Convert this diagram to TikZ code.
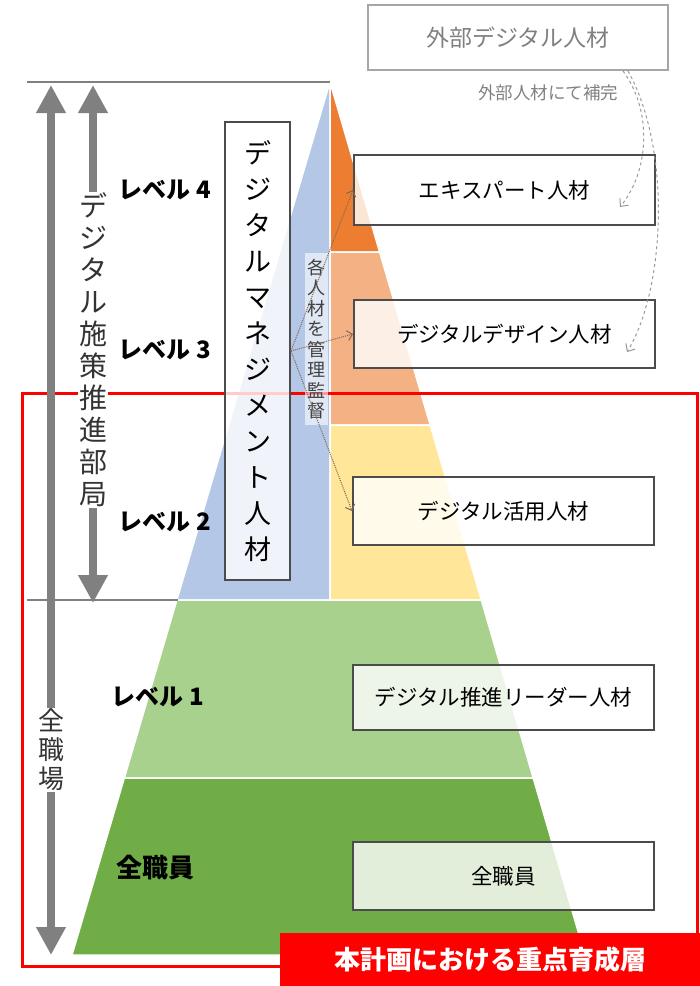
\documentclass[tikz,border=0pt]{standalone}
\usepackage{fontspec}
\setmainfont{Noto Sans CJK JP}
\usetikzlibrary{arrows.meta}
\definecolor{orgA}{HTML}{ED7D31}
\definecolor{orgB}{HTML}{F4B183}
\definecolor{yelA}{HTML}{FFE699}
\definecolor{bluA}{HTML}{B4C7E7}
\definecolor{grnA}{HTML}{A9D18E}
\definecolor{grnB}{HTML}{70AD47}
\definecolor{lineG}{HTML}{808080}
\definecolor{dotB}{HTML}{7F6A55}
\begin{document}
\begin{tikzpicture}[x=1pt,y=-1pt,
  band/.style={draw=white,line width=1.5pt},
  lvl/.style={font=\bfseries\fontsize{24}{24}\selectfont},
  tbox/.style={draw=black!70,line width=2pt,fill=white,fill opacity=0.8,text opacity=1,minimum width=301pt,minimum height=68pt,font=\fontsize{21.5}{21.5}\selectfont},
  bigarrow/.style={lineG,line width=8pt,{Triangle[length=28pt,width=28pt]}-{Triangle[length=28pt,width=28pt]}},
  link/.style={dotB,densely dotted,line width=1pt,-{Straight Barb[length=5pt,width=10pt]}},
  extlink/.style={lineG!80,dashed,line width=1pt,-{Straight Barb[length=6pt,width=11pt]}}]
\useasboundingbox (0,0) rectangle (700,986);
\draw[band,fill=bluA] (330,82) -- (176.9,600) -- (330,600) -- cycle;
\draw[band,fill=orgA] (330,82) -- (379.6,252) -- (330,252) -- cycle;
\draw[band,fill=orgB] (330,252) -- (379.6,252) -- (430.2,425) -- (330,425) -- cycle;
\draw[band,fill=yelA] (330,425) -- (430.2,425) -- (481.3,600) -- (330,600) -- cycle;
\draw[band,fill=grnA] (176.9,600) -- (481.3,600) -- (533.2,778) -- (124.3,778) -- cycle;
\draw[band,fill=grnB] (124.3,778) -- (533.2,778) -- (585,955) -- (72,955) -- cycle;
\draw[lineG,line width=2.5pt] (27,82) -- (330,82);
\draw[lineG,line width=2.5pt] (27,600) -- (178,600);
\draw[red,line width=3pt] (22,393) rectangle (697,966);
\draw[bigarrow] (51,85) -- (51,955);
\draw[bigarrow] (93,85) -- (93,603);
\node[fill=white,inner sep=1pt,align=center,text=black!80,font=\fontsize{28}{32}\selectfont] (dept) at (93,350) {デ\\ジ\\タ\\ル\\施\\策\\推\\進\\部\\局};
\node[fill=white,inner sep=1pt,align=center,text=black!80,font=\fontsize{26}{29}\selectfont] (all) at (51,750) {全\\職\\場};
\node[lvl] (lv4) at (165,190) {レベル 4};
\node[lvl] (lv3) at (165,350) {レベル 3};
\node[lvl] (lv2) at (165,522) {レベル 2};
\node[lvl] (lv1) at (158,697) {レベル 1};
\node[lvl,font=\bfseries\fontsize{26}{26}\selectfont] (lv0) at (155,868) {全職員};
\node[draw=black!70,line width=2pt,fill=white,fill opacity=0.8,text opacity=1,minimum width=65pt,minimum height=458pt,align=center,font=\fontsize{27}{36}\selectfont] (mgmt) at (257.5,351) {デ\\ジ\\タ\\ル\\マ\\ネ\\ジ\\メ\\ン\\ト\\人\\材};
\node[fill=white,fill opacity=0.6,text opacity=1,inner sep=0pt,minimum width=23pt,minimum height=172pt,align=center,text=black!75,font=\fontsize{18}{20.5}\selectfont] (kanri) at (316.5,339) {各\\人\\材\\を\\管\\理\\監\\督};
\node[draw=lineG!70,line width=2pt,fill=white,minimum width=300pt,minimum height=65pt,text=lineG,font=\fontsize{23}{23}\selectfont] (gaibu) at (518,37.5) {外部デジタル人材};
\node[text=lineG,font=\fontsize{17.5}{17.5}\selectfont] (hokan) at (548,93) {外部人材にて補完};
\node[tbox,minimum height=70pt] (expert) at (504.5,190) {エキスパート人材};
\node[tbox] (design) at (504.5,334) {デジタルデザイン人材};
\node[tbox] (katsuyo) at (503.5,511) {デジタル活用人材};
\node[tbox,minimum height=65pt] (leader) at (503.5,697) {デジタル推進リーダー人材};
\node[tbox] (staff) at (503.5,876) {全職員};
\coordinate (hub) at (mgmt.east);
\draw[link] (hub) -- (expert.west);
\draw[link] (hub) -- (design.west);
\draw[link] (hub) -- (katsuyo.west);
\coordinate (g1) at (623,71);
\coordinate (g2) at (628,71);
\coordinate (e1) at (620,207);
\coordinate (e2) at (627,352);
\draw[extlink] (g1) .. controls (652,110) and (650,170) .. (e1);
\draw[extlink] (g2) .. controls (672,150) and (665,290) .. (e2);
\node[fill=red,text=white,minimum width=420pt,minimum height=53pt,font=\bfseries\fontsize{26}{26}\selectfont] (focus) at (490,959.5) {本計画における重点育成層};
\end{tikzpicture}
\end{document}
